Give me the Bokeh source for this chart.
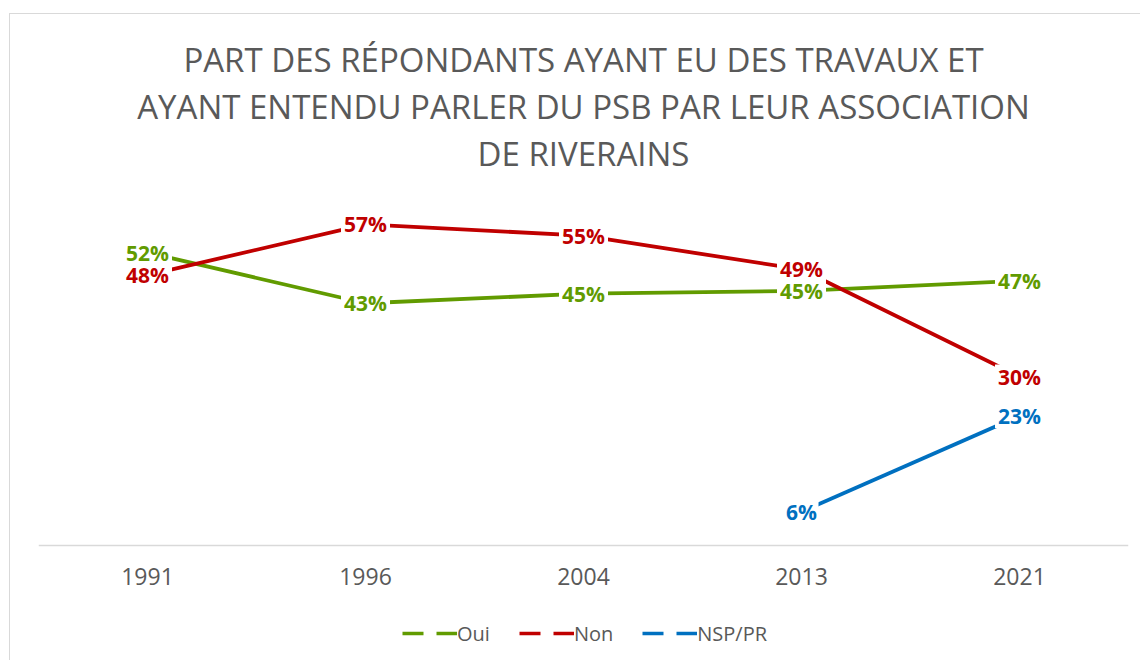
import math
from bokeh.plotting import figure
from bokeh.models import ColumnDataSource, FactorRange, Range1d, Title, Legend, LegendItem
from bokeh.core.properties import value
from bokeh.embed import file_html
from bokeh.resources import INLINE

# ---- data ----
years = ["1991", "1996", "2004", "2013", "2021"]
oui = [52.0, 43.0, 44.7, 45.2, 47.0]
non = [48.0, 57.0, 55.0, 49.0, 30.0]
nsp = [float("nan"), float("nan"), float("nan"), 6.0, 23.0]
series_names = ["Oui", "Non", "NSP/PR"]
title_lines = [
    "PART DES RÉPONDANTS AYANT EU DES TRAVAUX ET",
    "AYANT ENTENDU PARLER DU PSB PAR LEUR ASSOCIATION",
    "DE RIVERAINS",
]

# ---- style ----
GREEN = "#619b00"
RED = "#c00000"
BLUE = "#0070c0"
GRAY = "#595959"
LIGHT = "#d9d9d9"
FONT = "Open Sans"
colors = [GREEN, RED, BLUE]

# layout in pixels: 0..60 occupies PLOT_H px, with room below 0 for the
# category labels and the legend
Y_MAX = 60
PLOT_H = 338
BELOW_H = 105
y_min = -Y_MAX * BELOW_H / PLOT_H

p = figure(
    frame_width=1090, frame_height=PLOT_H + BELOW_H,
    x_range=FactorRange(factors=years, range_padding=0),
    y_range=Range1d(y_min, Y_MAX),
    output_backend="svg", toolbar_location=None,
    y_axis_location=None, title_location=None,
    min_border_left=28, min_border_right=12,
    min_border_top=193, min_border_bottom=10,
    outline_line_color=None,
)
p.margin = (13, 0, 0, 9)
p.styles = {"border-top": "1px solid #d9d9d9", "border-left": "1px solid #d9d9d9"}
p.xgrid.visible = False
p.ygrid.visible = False

# titles, stacked from the frame outward (a blank spacer first)
p.add_layout(Title(text=" ", text_font=FONT, text_font_size="22px", standoff=0), "above")
for txt in reversed(title_lines):
    p.add_layout(Title(text=txt, align="center", text_font=FONT, text_font_size="33px",
                       text_font_style="normal", text_color=GRAY, standoff=0), "above")

# x axis, drawn at y = 0
ax = p.xaxis[0]
ax.fixed_location = 0
ax.axis_line_color = LIGHT
ax.axis_line_width = 1.5
ax.major_tick_line_color = None
ax.minor_tick_line_color = None
ax.major_label_text_font = FONT
ax.major_label_text_font_size = "23px"
ax.major_label_text_color = GRAY
ax.major_label_standoff = 16

# lines
all_series = [oui, non, nsp]
for vals, col in zip(all_series, colors):
    src = ColumnDataSource(dict(x=years, y=vals))
    p.line("x", "y", source=src, line_color=col, line_width=3.8)

# data labels with white boxes
for vals, col in zip(all_series, colors):
    xs, ys, txt, ws = [], [], [], []
    for yr, v in zip(years, vals):
        if v is None or (isinstance(v, float) and math.isnan(v)):
            continue
        t = f"{round(v)}%"
        xs.append(yr); ys.append(v); txt.append(t); ws.append(15 * len(t) + 4)
    src = ColumnDataSource(dict(x=xs, y=ys, text=txt, w=ws))
    p.rect("x", "y", width="w", height=24, width_units="screen", height_units="screen",
           source=src, fill_color="white", line_color=None)
    p.text("x", "y", text="text", source=src, text_color=col, text_align="center",
           text_baseline="middle", text_font=value(FONT), text_font_size="21px",
           text_font_style="bold")

# legend with dashed glyphs (renderers that draw nothing in the plot)
items = []
for name, col in zip(series_names, colors):
    dsrc = ColumnDataSource(dict(x=years[:2], y=[float("nan"), float("nan")]))
    r = p.line("x", "y", source=dsrc, line_color=col, line_width=3.5, line_dash="21 13")
    items.append(LegendItem(label=name, renderers=[r]))
legend = Legend(items=items, orientation="horizontal", location=(364, 3),
                glyph_width=55, glyph_height=28, label_height=28, label_standoff=0,
                spacing=29, padding=0, margin=0,
                label_text_font=FONT, label_text_font_size="20px", label_text_color=GRAY,
                border_line_color=None, background_fill_alpha=0)
p.add_layout(legend)

open("out.html", "w").write(file_html(p, INLINE))
